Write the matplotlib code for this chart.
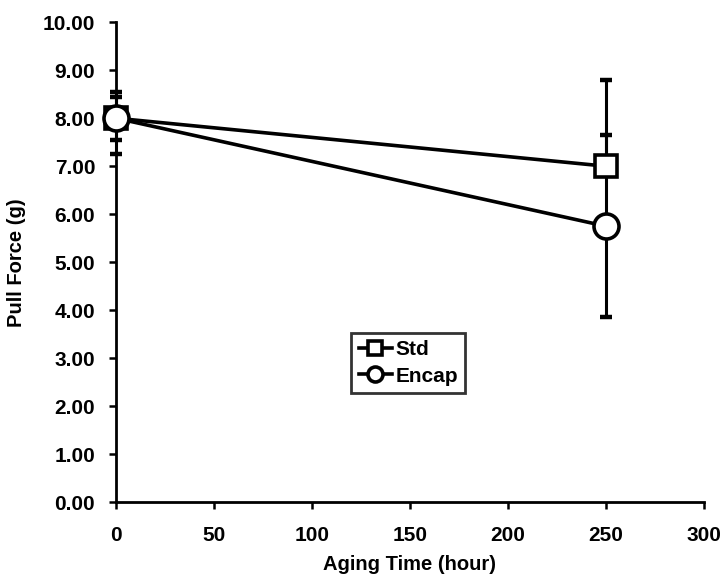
import matplotlib
matplotlib.use('Agg')
import matplotlib.pyplot as plt
from matplotlib.ticker import FormatStrFormatter

# pull force after aging
hours = [0, 250]
std_force = [8.0, 7.0]
std_err_low = [0.75, 0.0]
std_err_high = [0.55, 1.8]
encap_force = [8.0, 5.75]
encap_err = [0.45, 1.9]

plt.rcParams['font.family'] = ['Liberation Sans', 'DejaVu Sans']
plt.rcParams['font.weight'] = 'bold'

fig = plt.figure(figsize=(7.25, 5.84), dpi=100)
ax = fig.add_axes([0.16, 0.14, 0.811, 0.822])

# error bars first, then the lines with markers on top
ax.errorbar(hours, std_force, yerr=[std_err_low, std_err_high], fmt='none',
            ecolor='black', capsize=4, capthick=3.2, elinewidth=2.2,
            clip_on=False, zorder=2)
ax.errorbar(hours, encap_force, yerr=encap_err, fmt='none',
            ecolor='black', capsize=4, capthick=3.2, elinewidth=2.2,
            clip_on=False, zorder=2)
ax.plot(hours, std_force, color='black', lw=2.6, marker='s', ms=16,
        mfc='white', mec='black', mew=2.6, clip_on=False, zorder=3, label='Std')
ax.plot(hours, encap_force, color='black', lw=2.6, marker='o', ms=18,
        mfc='white', mec='black', mew=2.6, clip_on=False, zorder=3, label='Encap')

ax.set_xlim(0, 300)
ax.set_ylim(0, 10)
ax.set_xticks(range(0, 301, 50))
ax.set_yticks(range(0, 11))
ax.yaxis.set_major_formatter(FormatStrFormatter('%.2f'))

for side in ['top', 'right']:
    ax.spines[side].set_visible(False)
for side in ['left', 'bottom']:
    ax.spines[side].set_linewidth(2)
ax.tick_params(direction='out', length=5, width=1.8, labelsize=15)
ax.tick_params(axis='x', pad=12)
ax.tick_params(axis='y', pad=10)

ax.set_xlabel('Aging Time (hour)', fontsize=14.5, fontweight='bold', labelpad=7)
ax.set_ylabel('Pull Force (g)', fontsize=14.5, fontweight='bold', labelpad=12)

leg = ax.legend(loc='center', bbox_to_anchor=(0.497, 0.29), fontsize=15,
                frameon=True, fancybox=False, handlelength=1.6, markerscale=0.6,
                handletextpad=0.15, borderpad=0.35, labelspacing=0.35,
                borderaxespad=0)
leg.get_frame().set_edgecolor('black')
leg.get_frame().set_linewidth(2)

plt.savefig('out.png', dpi=100)
plt.close()
